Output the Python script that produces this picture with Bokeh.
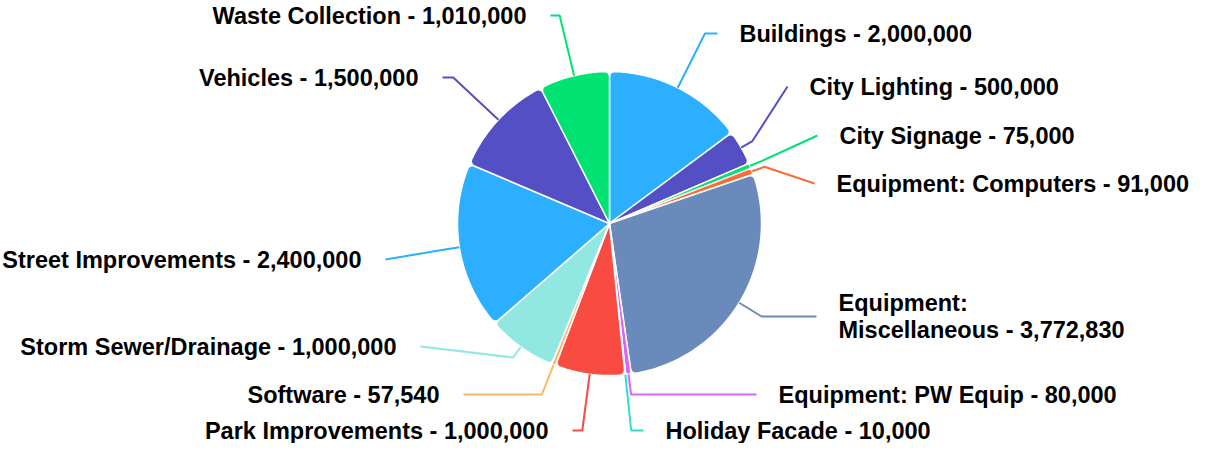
import math
from bokeh.plotting import figure
from bokeh.models import Range1d, ColumnDataSource
from bokeh.embed import file_html
from bokeh.resources import INLINE
from bokeh.core.properties import value

# ---------------- data ----------------
categories = ["Buildings", "City Lighting", "City Signage", "Equipment: Computers",
              "Equipment: Miscellaneous", "Equipment: PW Equip", "Holiday Facade",
              "Park Improvements", "Software", "Storm Sewer/Drainage",
              "Street Improvements", "Vehicles", "Waste Collection"]
values = [2000000, 500000, 75000, 91000, 3772830, 80000, 10000,
          1000000, 57540, 1000000, 2400000, 1500000, 1010000]

# ---------------- style / layout ----------------
palette = ["#2caffe", "#544fc5", "#00e272", "#fe6a35", "#6b8abc",
           "#d568fb", "#2ee0ca", "#fa4b42", "#feb56a", "#91e8e1"]
CX, CY, R = 609, 223, 152          # pie centre and radius (screen px)
BREAK = 13                          # connector break distance beyond the rim
CORNER = 5                          # slice corner rounding
# label anchor: (connector end x, label y, side)
label_anchor = [(717, 33, "r"), (787, 86, "r"), (817, 135, "r"), (814, 183, "r"),
                (816, 316, "r"), (756, 394, "r"), (643, 430, "r"),
                (572, 430, "l"), (463, 394, "l"), (420, 346, "l"),
                (385, 259, "l"), (442, 77, "l"), (550, 15, "l")]
GAP_R, GAP_L = 22, 24
FONT = "Liberation Sans"
FONT_SIZE = "23.5px"

W, H = 1192, 443
p = figure(width=W, height=H, x_range=Range1d(0, W), y_range=Range1d(H, 0),
           output_backend="svg", toolbar_location=None, min_border=0,
           x_axis_location=None, y_axis_location=None)
p.grid.visible = False
p.outline_line_color = None
p.background_fill_color = "white"


def pt(theta, r):
    t = math.radians(theta)
    return CX + r * math.sin(t), CY - r * math.cos(t)


def slice_poly(a0, a1):
    span = math.radians(a1 - a0)
    s = math.sin(span / 2)
    rc = min(CORNER, 0.95 * R * s / (1 + s))
    xs, ys = [CX], [CY]
    d = math.degrees(math.asin(rc / (R - rc))) if rc > 0 else 0.0
    c1 = pt(a0 + d, R - rc)
    n = 8
    for k in range(n + 1):
        phi = math.radians((a0 - 90) + (d + 90) * k / n)
        xs.append(c1[0] + rc * math.sin(phi))
        ys.append(c1[1] - rc * math.cos(phi))
    m = max(2, int((a1 - a0) / 1.0))
    for k in range(1, m):
        th = (a0 + d) + ((a1 - d) - (a0 + d)) * k / m
        x, y = pt(th, R)
        xs.append(x)
        ys.append(y)
    c2 = pt(a1 - d, R - rc)
    for k in range(n + 1):
        phi = math.radians((a1 - d) + (d + 90) * k / n)
        xs.append(c2[0] + rc * math.sin(phi))
        ys.append(c2[1] - rc * math.cos(phi))
    return xs, ys


total = float(sum(values))
colors = [palette[i % len(palette)] for i in range(len(values))]
starts, ends = [], []
acc = 0.0
for v in values:
    starts.append(acc / total * 360.0)
    acc += v
    ends.append(acc / total * 360.0)

sxs, sys_ = [], []
for a0, a1 in zip(starts, ends):
    xs, ys = slice_poly(a0, a1)
    sxs.append(xs)
    sys_.append(ys)

p.patches(xs="xs", ys="ys", fill_color="color", line_color="white", line_width=1.5,
          source=ColumnDataSource(dict(xs=sxs, ys=sys_, color=colors)))

# connectors
cxs, cys = [], []
for a0, a1, (ex, ey, side) in zip(starts, ends, label_anchor):
    mid = (a0 + a1) / 2
    edge = pt(mid, R)
    c = math.cos(math.radians(mid))
    path = None
    if abs(c) > 1e-6:
        rstar = (CY - ey) / c
        if rstar >= R + BREAK:
            xstar = CX + rstar * math.sin(math.radians(mid))
            if (side == "r" and xstar < ex) or (side == "l" and xstar > ex):
                path = [edge, (xstar, ey), (ex, ey)]
    if path is None:
        path = [edge, pt(mid, R + BREAK), (ex, ey)]
    cxs.append([q[0] for q in path])
    cys.append([q[1] for q in path])

p.multi_line(xs="xs", ys="ys", line_color="color", line_width=2,
             source=ColumnDataSource(dict(xs=cxs, ys=cys, color=colors)))

# labels
texts = []
for c, v in zip(categories, values):
    t = f"{c} - {v:,}"
    if c == "Equipment: Miscellaneous":
        t = f"Equipment:\nMiscellaneous - {v:,}"
    texts.append(t)

rt = dict(x=[], y=[], t=[])
lt = dict(x=[], y=[], t=[])
for t, (ex, ey, side) in zip(texts, label_anchor):
    if side == "r":
        rt["x"].append(ex + GAP_R); rt["y"].append(ey); rt["t"].append(t)
    else:
        lt["x"].append(ex - GAP_L); lt["y"].append(ey); lt["t"].append(t)

common = dict(text_font=value(FONT), text_font_style="bold", text_font_size=FONT_SIZE,
              text_color="#000000", text_baseline="middle", text_line_height=1.07)
p.text(x="x", y="y", text="t", text_align="left", source=ColumnDataSource(rt), **common)
p.text(x="x", y="y", text="t", text_align="right", source=ColumnDataSource(lt), **common)

open("out.html", "w").write(file_html(p, INLINE))
